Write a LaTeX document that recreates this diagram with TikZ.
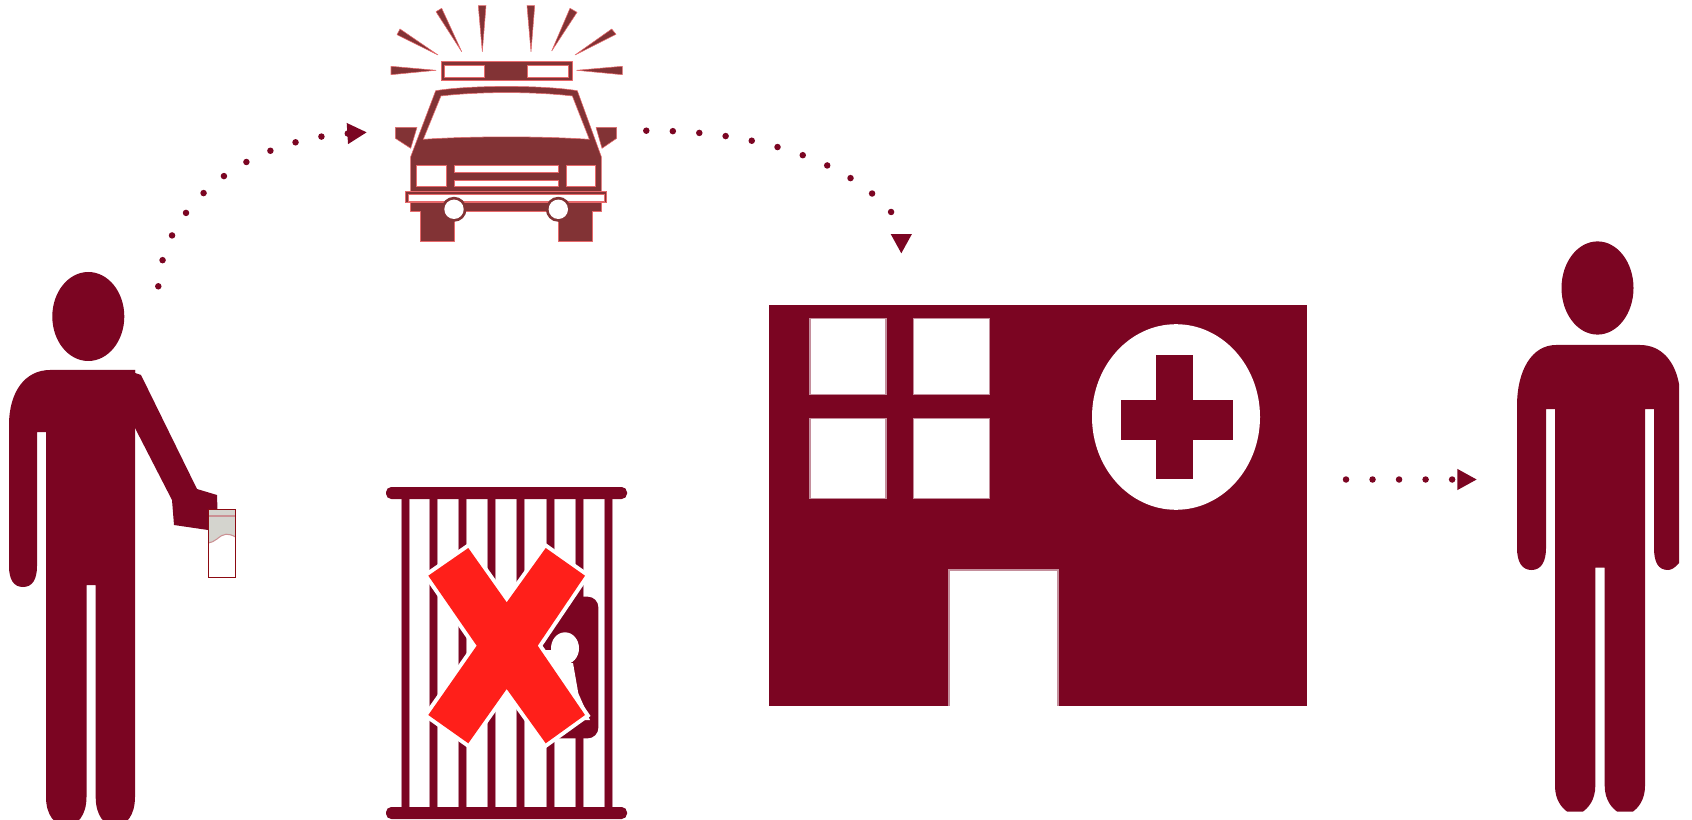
\documentclass[tikz,border=0pt]{standalone}
\usetikzlibrary{arrows.meta}
\definecolor{maroonfill}{HTML}{7B0522}
\definecolor{carfill}{HTML}{823335}
\definecolor{caredge}{HTML}{E8686A}
\definecolor{crossred}{HTML}{FF1F1A}
\definecolor{cangray}{HTML}{D4D4CE}
\definecolor{canedge}{HTML}{8C0A12}
\tikzset{
  figure/.style={fill=maroonfill},
  carpart/.style={fill=carfill,draw=caredge,line width=.3pt,line join=round},
  carglass/.style={fill=white,draw=caredge,line width=.3pt},
  softgap/.style={fill=white,draw=maroonfill!45,line width=.7pt},
  softbar/.style={fill=maroonfill,draw=maroonfill!45,line width=.5pt},
  dotarrow/.style={draw=maroonfill,line width=3.7pt,line cap=round,
    dash pattern=on 0pt off 15.1pt,
    -{Triangle[length=11.2pt,width=11.2pt]}}
}
\begin{document}
\begin{tikzpicture}[x=0.02cm,y=-0.02cm]
  \useasboundingbox (0,0) rectangle (1692,820);
  % man with the can
  \fill[figure] (88.3,316.5) ellipse [x radius=36,y radius=44.5];
  \fill[figure] (135,370) -- (50,370) .. controls (25,370) and (9,392) .. (9,425)
    -- (9,566) .. controls (9,580) and (14,587) .. (23,587)
    .. controls (32,587) and (37,580) .. (37,566) -- (37,432) -- (46,432)
    -- (46,797) .. controls (46,815) and (55,826) .. (66.3,826)
    .. controls (77.5,826) and (86.5,815) .. (86.5,797) -- (86.5,585) -- (95.7,585)
    -- (95.7,797) .. controls (95.7,815) and (104,826) .. (115.3,826)
    .. controls (126.5,826) and (135,815) .. (135,797) -- cycle;
  \fill[figure] (135,370) -- (135,373) -- (141,375) -- (197,489) -- (217,495) -- (217.5,510)
    -- (208,530) -- (174,525) -- (172,500) -- (135,428) -- cycle;
  \fill[white] (208.3,509.3) rectangle (235.7,577.3);
  \fill[cangray] (208.3,509.3) -- (235.7,509.3) -- (235.7,537)
    .. controls (228,533) and (224,533) .. (217,539)
    .. controls (214,541) and (211,543) .. (208.3,543) -- cycle;
  \draw[canedge!45,line width=.6pt] (208.3,516) -- (235.7,516);
  \draw[canedge!45,line width=.6pt] (208.3,543) .. controls (211,543) and (214,541) .. (217,539)
    .. controls (224,533) and (228,533) .. (235.7,537);
  \draw[canedge,line width=.7pt] (208.3,509.3) rectangle (235.7,577.3);
  % police car
  \foreach \ax/\ay/\bx/\by/\cx/\cy in {436/11.7/441.7/8.3/461.7/51.7,478.3/5.7/486/5.7/482.3/51.7,
    527/5.7/534.7/5.7/531/51.7,570/8.3/577/12.3/551.7/51,611.7/29/616/34.3/575/55,
    400/29/397/34.7/438/55,391/66.3/391/74.7/436/70.3,622.3/66.3/622.3/74.7/576.7/70.3}
    \filldraw[carpart] (\ax,\ay) -- (\bx,\by) -- (\cx,\cy) -- cycle;
  \filldraw[carpart] (441,61.3) rectangle (572.3,80.7);
  \filldraw[carglass] (444.7,65) rectangle (484.7,77);
  \filldraw[carglass] (527.7,65) rectangle (568.7,77);
  \filldraw[carpart] (395.3,127.3) -- (417,127.3) -- (410.7,148.3) -- (395.3,138.3) -- cycle;
  \filldraw[carpart] (616.7,127.3) -- (596,127.3) -- (602,148.3) -- (616.7,138.3) -- cycle;
  \filldraw[carpart] (410.7,191.7) -- (410.7,156.7) -- (435.7,90.7)
    .. controls (470,85) and (543,85) .. (577.3,90.7) -- (601.3,156.7) -- (601.3,191.7) -- cycle;
  \filldraw[carpart] (410.7,202) -- (601.7,202) -- (601.7,211.3) -- (592.3,211.3) -- (592.3,241.7)
    -- (558.3,241.7) -- (558.3,211.3) -- (454.3,211.3) -- (454.3,241.7) -- (420,241.7)
    -- (420,211.3) -- (410.7,211.3) -- cycle;
  \filldraw[carpart] (405,191) rectangle (606.7,202.7);
  \filldraw[carglass] (408.3,194) rectangle (604.3,201.3);
  \filldraw[carglass] (423.3,139.3) -- (441,96) .. controls (480,91.5) and (533,91.5) .. (572.3,96)
    -- (589.3,139.3) .. controls (540,136) and (473,136) .. (423.3,139.3) -- cycle;
  \filldraw[carglass] (416.7,165.3) rectangle (446.7,186.7);
  \filldraw[carglass] (566,165.3) rectangle (595.3,186.7);
  \filldraw[carglass] (454.3,165.3) rectangle (558.3,172.7);
  \filldraw[carglass] (454.3,180.3) rectangle (558.3,186.7);
  \foreach \wx in {454,558.3} {
    \fill[carfill] (\wx,209.3) circle [radius=12.5];
    \fill[white] (\wx,209.3) circle [radius=9.7];
  }
  % jail with the cross
  \foreach \bx in {405,433.7,462.7,491.7,520.7,550,579,608}
    \filldraw[softbar] (\bx-4,495) rectangle (\bx+4,812);
  \fill[figure,rounded corners=3pt] (386,487) rectangle (627,499);
  \fill[figure,rounded corners=3pt] (386,807) rectangle (627,819);
  \fill[figure,rounded corners=6pt] (540,596.7) rectangle (598.3,738.3);
  \fill[white] (565,648.3) ellipse [x radius=14,y radius=16];
  \fill[white] (535,650) -- (560,650) -- (560,663) -- (573,663) -- (578.3,693.3) -- (590,720)
    -- (535,720) -- cycle;
  \path[preaction={draw=white,line width=4.6pt},fill=crossred] (468.3,548) -- (428.3,575.7)
    -- (476.7,645.7) -- (428.3,715) -- (468.3,743.3) -- (506.7,689) -- (545.7,743.3) -- (585,715)
    -- (537.7,645.7) -- (585,575.7) -- (545.7,548) -- (506.7,602.3) -- cycle;
  % hospital
  \fill[figure] (769,305) rectangle (1307,706);
  \foreach \wx/\wy/\wh in {810/318.3/76,913.6/318.3/76,810/418.3/80,913.6/418.3/80}
    \filldraw[softgap] (\wx,\wy) rectangle +(76,\wh);
  \fill[white] (1176,417) ellipse [x radius=84,y radius=92.8];
  \fill[figure] (1156.4,355) rectangle (1193,479);
  \fill[figure] (1120.7,400) rectangle (1233,440);
  \fill[white] (949,570) rectangle (1058,706);
  \draw[maroonfill!45,line width=.7pt] (949,706) -- (949,570) -- (1058,570) -- (1058,706);
  % man who walks out
  \fill[figure] (1597.5,288) ellipse [x radius=36,y radius=46.6];
  \fill[figure] (1556,345) -- (1640,345) .. controls (1662,345) and (1675,362) .. (1679,384)
    -- (1679,563) .. controls (1675,568) and (1671,570) .. (1668,570)
    .. controls (1658,570) and (1654,562) .. (1654,548) -- (1654,409) -- (1645,409)
    -- (1645,786) .. controls (1645,800) and (1638,808) .. (1633,811.5) -- (1617,811.5)
    .. controls (1612,808) and (1604.7,800) .. (1604.7,786) -- (1604.7,567.6) -- (1595.3,567.6)
    -- (1595.3,786) .. controls (1595.3,800) and (1588,808) .. (1583,811.5) -- (1567,811.5)
    .. controls (1562,808) and (1555,800) .. (1555,786) -- (1555,409) -- (1546,409)
    -- (1546,548) .. controls (1546,562) and (1541,570) .. (1531.5,570)
    .. controls (1522,570) and (1517,562) .. (1517,548) -- (1517,406)
    .. controls (1517,370) and (1532,345) .. (1556,345) -- cycle;
  % connectors
  \coordinate (manOut) at (158.3,286.3);
  \coordinate (carIn) at (367,132.3);
  \coordinate (carOut) at (646.3,130.7);
  \coordinate (hospMid) at (891.7,212.7);
  \coordinate (hospIn) at (901.3,253.7);
  \coordinate (hospOut) at (1346,479.5);
  \coordinate (manIn) at (1477,479.5);
  \draw[dotarrow] (manOut) .. controls (163,205) and (245,140) .. (carIn);
  \draw[dotarrow] (carOut) .. controls (750,130) and (845,158) .. (hospMid)
    .. controls (898,222) and (901.3,238) .. (hospIn);
  \draw[dotarrow] (hospOut) -- (manIn);
\end{tikzpicture}
\end{document}
